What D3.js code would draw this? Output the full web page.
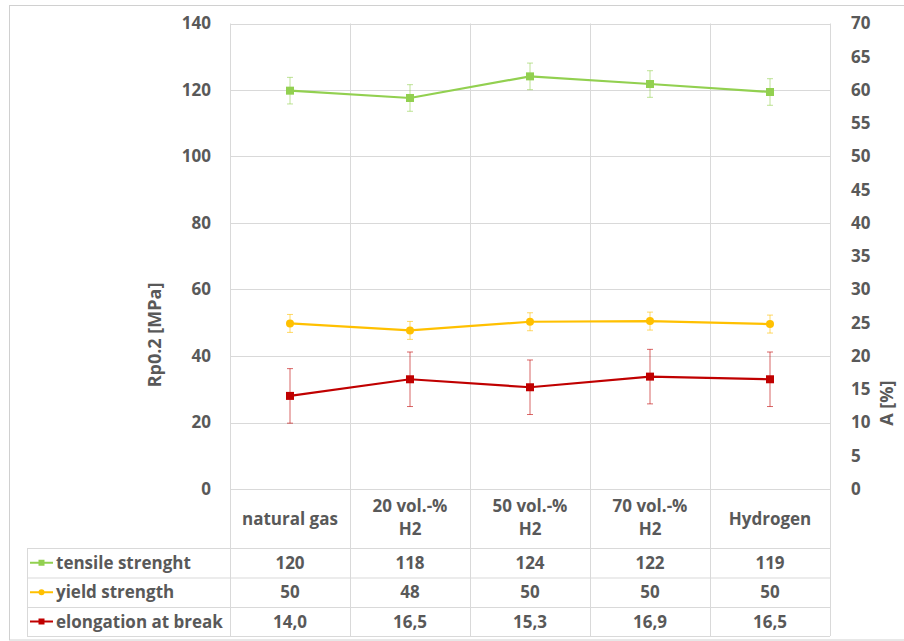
<!DOCTYPE html>
<html><head><meta charset="utf-8">
<script src="https://cdn.jsdelivr.net/npm/d3@7/dist/d3.min.js"></script>
<style>
body{margin:0;background:#fff;}
svg{display:block;font-family:"Open Sans",sans-serif;}
</style></head>
<body><svg id="c" width="904" height="641"></svg>
<script>
const categories = [["natural gas"], ["20 vol.-%", "H2"], ["50 vol.-%", "H2"], ["70 vol.-%", "H2"], ["Hydrogen"]];
const tensile = [119.8, 117.6, 124.1, 121.8, 119.4];
const tensileErr = [4, 4, 4, 4, 4];
const tensileLabels = ["120", "118", "124", "122", "119"];
const yieldS = [49.8, 47.7, 50.3, 50.5, 49.6];
const yieldErr = [2.7, 2.7, 2.7, 2.7, 2.7];
const yieldLabels = ["50", "48", "50", "50", "50"];
const elong = [14.0, 16.5, 15.3, 16.9, 16.5];
const elongErr = [4.1, 4.1, 4.1, 4.1, 4.1];
const elongLabels = ["14,0", "16,5", "15,3", "16,9", "16,5"];
const leftTicks = [0, 20, 40, 60, 80, 100, 120, 140];
const rightTicks = [0, 5, 10, 15, 20, 25, 30, 35, 40, 45, 50, 55, 60, 65, 70];

const svg = d3.select("#c");
const textCol = "#595959", gridCol = "#d9d9d9";
const L = 230, R = 830, T = 23.5, B = 489;
const x = d3.scaleBand().domain(d3.range(categories.length)).range([L, R]);
const yL = d3.scaleLinear().domain([0, 140]).range([B, T]);
const yR = d3.scaleLinear().domain([0, 70]).range([B, T]);

// outer border
svg.append("rect").attr("x", 9.5).attr("y", 5.5).attr("width", 900).attr("height", 634.5)
  .attr("fill", "none").attr("stroke", "#d0d0d0");

// gridlines
const g = svg.append("g");
g.selectAll("line.h").data(leftTicks).join("line")
  .attr("x1", L).attr("x2", R).attr("y1", d => Math.round(yL(d)) + 0.5).attr("y2", d => Math.round(yL(d)) + 0.5)
  .attr("stroke", gridCol);
g.selectAll("line.v").data(d3.range(categories.length + 1)).join("line")
  .attr("x1", i => Math.round(L + i * x.bandwidth()) + 0.5).attr("x2", i => Math.round(L + i * x.bandwidth()) + 0.5)
  .attr("y1", T).attr("y2", 636).attr("stroke", gridCol);

// table lines
const rowY = [548, 577.5, 607, 636];
rowY.forEach(yy => svg.append("line").attr("x1", 27).attr("x2", R).attr("y1", yy + 0.5).attr("y2", yy + 0.5).attr("stroke", gridCol));
svg.append("line").attr("x1", 27.5).attr("x2", 27.5).attr("y1", 548).attr("y2", 636).attr("stroke", gridCol);

// axes
const fontSize = 17;
const axL = d3.axisLeft(yL).tickValues(leftTicks).tickSize(0).tickPadding(19);
const gl = svg.append("g").attr("transform", `translate(${L},0)`).call(axL);
const axR = d3.axisRight(yR).tickValues(rightTicks).tickSize(0).tickPadding(21);
const gr = svg.append("g").attr("transform", `translate(${R},0)`).call(axR);
[gl, gr].forEach(a => {
  a.select(".domain").remove();
  a.selectAll("text").attr("fill", textCol).attr("font-size", fontSize).attr("font-weight", "bold").attr("font-family", "Open Sans, sans-serif");
});

svg.append("text").attr("transform", `translate(161,335) rotate(-90)`)
  .attr("text-anchor", "middle").attr("fill", textCol).attr("font-size", 18).attr("font-weight", "bold").text("Rp0.2 [MPa]");
svg.append("text").attr("transform", `translate(893,${yR(12.9)}) rotate(-90)`)
  .attr("text-anchor", "middle").attr("fill", textCol).attr("font-size", 18).attr("font-weight", "bold").text("A [%]");

// series
const series = [
  {vals: tensile, err: tensileErr, y: yL, color: "#92D050", marker: "square", name: "tensile strenght", labels: tensileLabels},
  {vals: yieldS, err: yieldErr, y: yL, color: "#FFC000", marker: "circle", name: "yield strength", labels: yieldLabels},
  {vals: elong, err: elongErr, y: yR, color: "#C00000", marker: "square", name: "elongation at break", labels: elongLabels}
];
const cx = i => x(i) + x.bandwidth() / 2;
series.forEach(s => {
  const sg = svg.append("g");
  s.vals.forEach((v, i) => {
    const y1 = s.y(v + s.err[i]), y2 = s.y(v - s.err[i]);
    sg.append("line").attr("x1", cx(i)).attr("x2", cx(i)).attr("y1", y1).attr("y2", y2).attr("stroke", s.color).attr("stroke-opacity", 0.6).attr("stroke-width", 1);
    [y1, y2].forEach(yy => sg.append("line").attr("x1", cx(i) - 3).attr("x2", cx(i) + 3).attr("y1", yy).attr("y2", yy).attr("stroke", s.color).attr("stroke-opacity", 0.6));
  });
  sg.append("path").datum(s.vals).attr("fill", "none").attr("stroke", s.color).attr("stroke-width", 2.2)
    .attr("d", d3.line().x((d, i) => cx(i)).y(d => s.y(d)));
  if (s.marker === "square") {
    sg.selectAll("rect").data(s.vals).join("rect")
      .attr("x", (d, i) => cx(i) - 4).attr("y", d => s.y(d) - 4).attr("width", 8).attr("height", 8).attr("fill", s.color);
  } else {
    sg.selectAll("circle").data(s.vals).join("circle")
      .attr("cx", (d, i) => cx(i)).attr("cy", d => s.y(d)).attr("r", 4).attr("fill", s.color);
  }
});

// table header
const tfs = 17;
categories.forEach((c, i) => {
  const t = svg.append("text").attr("text-anchor", "middle").attr("fill", textCol).attr("font-size", tfs).attr("font-weight", "bold");
  if (c.length === 1) {
    t.append("tspan").attr("x", cx(i)).attr("y", 525).text(c[0]);
  } else {
    t.append("tspan").attr("x", cx(i)).attr("y", 512).text(c[0]);
    t.append("tspan").attr("x", cx(i)).attr("y", 535).text(c[1]);
  }
});

// table rows
series.forEach((s, r) => {
  const ym = (rowY[r] + rowY[r + 1]) / 2;
  svg.append("line").attr("x1", 30).attr("x2", 53).attr("y1", ym).attr("y2", ym).attr("stroke", s.color).attr("stroke-width", 2);
  if (s.marker === "square") svg.append("rect").attr("x", 38.5).attr("y", ym - 3).attr("width", 6).attr("height", 6).attr("fill", s.color);
  else svg.append("circle").attr("cx", 41.5).attr("cy", ym).attr("r", 3).attr("fill", s.color);
  svg.append("text").attr("x", 56).attr("y", ym + 6).attr("fill", textCol).attr("font-size", tfs).attr("font-weight", "bold").text(s.name);
  s.labels.forEach((lab, i) => {
    svg.append("text").attr("x", cx(i)).attr("y", ym + 6).attr("text-anchor", "middle").attr("fill", textCol).attr("font-size", tfs).attr("font-weight", "bold").text(lab);
  });
});
</script></body></html>
